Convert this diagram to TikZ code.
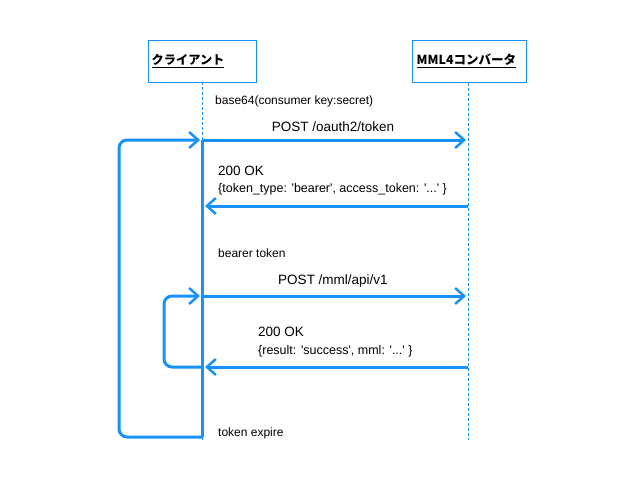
\documentclass[tikz,border=0pt]{standalone}
\usepackage{fontspec}
\setmainfont{Liberation Sans}
\newfontfamily\cjk{Noto Sans CJK JP}
\usetikzlibrary{arrows.meta, positioning}

\definecolor{seqblue}{RGB}{22,146,250}
\newcommand\sq{\textquotesingle}

\tikzset{
  actor/.style={draw=seqblue, line width=1pt, minimum width=108pt, minimum height=42pt, inner sep=0pt},
  life/.style={draw=seqblue, line width=0.8pt, dash pattern=on 3pt off 2pt},
  msg/.style={draw=seqblue, line width=3pt, -{Straight Barb[length=9pt,width=16pt,line width=2.5pt]}},
  loop/.style={draw=seqblue, line width=3pt, rounded corners=8pt},
  lbl/.style={inner sep=0pt, anchor=base west, font=\fontsize{12.5}{14}\selectfont},
  small/.style={font=\fontsize{12}{14}\selectfont},
  big/.style={font=\fontsize{13.5}{16}\selectfont},
}

\begin{document}
\begin{tikzpicture}[x=1pt, y=-1pt]
  \useasboundingbox (0,0) rectangle (640,480);
  % actors
  \draw (202,61) node[actor] (client) {};
  \draw (469,61) node[actor, minimum width=114pt] (conv) {};
  \draw (client.west) ++(4,0) node[anchor=west, inner sep=0pt, font=\cjk\bfseries\fontsize{12.2}{14}\selectfont] (clienttxt) {\underline{クライアント}};
  \draw (conv.west) ++(5,0) node[anchor=west, inner sep=0pt, font=\cjk\bfseries\fontsize{12.5}{14}\selectfont] (convtxt) {\underline{MML4コンバータ}};
  % lifelines
  \coordinate (cend) at (202,440);
  \coordinate (vend) at (468,440);
  \draw[life] (202,82) -- (cend);
  \draw[life] (conv.south -| vend) -- (vend);
  % points on the lifelines
  \coordinate (c1) at (202,140);
  \coordinate (v1) at (468,140);
  \coordinate (c2) at (202,206);
  \coordinate (v2) at (468,206);
  \coordinate (c3) at (202,296);
  \coordinate (v3) at (468,296);
  \coordinate (c4) at (202,367);
  \coordinate (v4) at (468,367);
  \coordinate (c5) at (202,437);
  % token request
  \draw (215,104) node[lbl, small] (b64) {base64(consumer key:secret)};
  \draw[msg] (c1) -- node[above=7pt, big, inner sep=0pt, xshift=-1pt] (post1) {POST /oauth2/token} ([xshift=-2pt]v1);
  \draw (218,175) node[lbl, big] (ok1) {200 OK};
  \draw (218,192) node[lbl] (resp1) {\{token\_type: \sq bearer\sq, access\_token: \sq...\sq\ \}};
  \draw[msg] (v2) -- ([xshift=3pt]c2);
  % api call
  \draw (218,257) node[lbl, small] (bearer) {bearer token};
  \draw[msg] (c3) -- node[above=7pt, big, inner sep=0pt, xshift=-1pt] (post2) {POST /mml/api/v1} ([xshift=-2pt]v3);
  \draw (258,336) node[lbl, big] (ok2) {200 OK};
  \draw (258,354) node[lbl] (resp2) {\{result: \sq success\sq, mml: \sq...\sq\ \}};
  \draw[msg] (v4) -- ([xshift=3pt]c4);
  % loops
  \draw[loop] (c1) -- (c5);
  \draw[loop, -{Straight Barb[length=9pt,width=16pt,line width=2.5pt]}] (c5) -| (119,140) -- ([xshift=-2pt]c1);
  \draw[loop, -{Straight Barb[length=9pt,width=16pt,line width=2.5pt]}] (c4) -| (164,296) -- ([xshift=-2pt]c3);
  \draw (218,436) node[lbl, small] (expire) {token expire};
\end{tikzpicture}
\end{document}
